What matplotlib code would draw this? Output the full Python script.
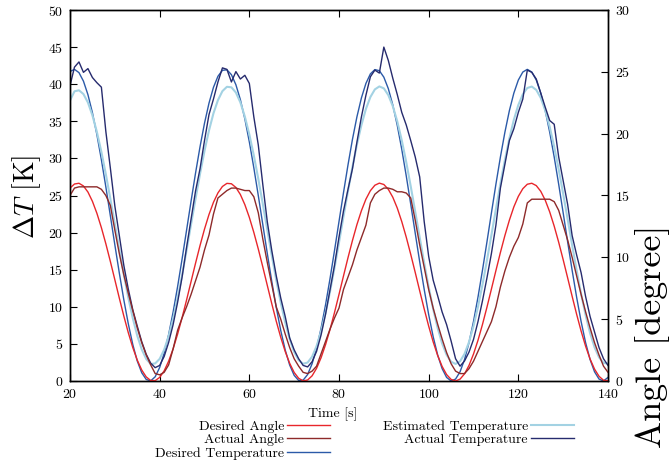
import numpy as np
import matplotlib
matplotlib.use('Agg')
import matplotlib.pyplot as plt

plt.rcParams['font.family'] = 'cmr10'
plt.rcParams['mathtext.fontset'] = 'cm'
plt.rcParams['axes.unicode_minus'] = False
plt.rcParams['axes.formatter.use_mathtext'] = True

# time axis, one sample per second
time_s = np.arange(20, 141)

# desired temperature difference [K]
desired_temp = [
    41.71, 42.00, 41.56, 40.41, 38.59, 36.16, 33.20, 29.82, 26.14, 22.27,
    18.36, 14.55, 10.96, 7.72, 4.93, 2.70, 1.11, 0.21, 0.02, 0.57,
    1.82, 3.74, 6.26, 9.29, 12.72, 16.44, 20.32, 24.22, 28.01, 31.56,
    34.74, 37.44, 39.58, 41.07, 41.87, 41.94, 41.29, 39.93, 37.92, 35.32,
    32.23, 28.74, 24.99, 21.10, 17.21, 13.44, 9.94, 6.82, 4.19, 2.15,
    0.76, 0.07, 0.11, 0.87, 2.33, 4.44, 7.11, 10.27, 13.81, 17.59,
    21.49, 25.37, 29.10, 32.56, 35.61, 38.15, 40.10, 41.39, 41.97, 41.82,
    40.95, 39.40, 37.20, 34.44, 31.22, 27.64, 23.83, 19.93, 16.06, 12.36,
    8.96, 5.98, 3.52, 1.67, 0.48, 0.01, 0.26, 1.24, 2.90, 5.18,
    8.02, 11.30, 14.92, 18.75, 22.66, 26.52, 30.18, 33.52, 36.43, 38.80,
    40.56, 41.64, 42.00, 41.64, 40.56, 38.80, 36.43, 33.52, 30.18, 26.52,
    22.66, 18.75, 14.92, 11.30, 8.02, 5.18, 2.90, 1.24, 0.26, 0.01,
    0.48,
]

# estimated temperature difference [K]
estimated_temp = [
    37.80, 39.04, 39.18, 38.67, 37.53, 35.80, 33.56, 30.88, 27.85, 24.56,
    21.14, 17.69, 14.36, 11.24, 8.47, 6.11, 4.26, 2.96, 2.29, 2.37,
    2.98, 4.22, 6.04, 8.38, 11.16, 14.27, 17.61, 21.09, 24.55, 27.90,
    31.00, 33.76, 36.08, 37.85, 39.07, 39.65, 39.58, 38.88, 37.55, 35.63,
    33.23, 30.40, 27.24, 23.87, 20.39, 16.93, 13.61, 10.57, 7.89, 5.64,
    3.91, 2.81, 2.32, 2.49, 3.28, 4.71, 6.69, 9.17, 12.05, 15.25,
    18.66, 22.15, 25.58, 28.85, 31.87, 34.49, 36.66, 38.27, 39.30, 39.70,
    39.44, 38.53, 37.04, 34.98, 32.43, 29.49, 26.24, 22.82, 19.34, 15.93,
    12.68, 9.71, 7.14, 5.06, 3.52, 2.60, 2.30, 2.65, 3.66, 5.25,
    7.40, 9.99, 12.98, 16.25, 19.69, 23.17, 26.59, 29.79, 32.69, 35.21,
    37.20, 38.65, 39.49, 39.68, 39.23, 38.16, 36.47, 34.25, 31.57, 28.53,
    25.23, 21.79, 18.31, 14.92, 11.74, 8.89, 6.46, 4.54, 3.19, 2.44,
    2.35,
]

# measured temperature difference [K]
actual_temp = [
    39.8, 42.3, 43.0, 41.6, 42.1, 40.9, 40.2, 39.6, 33.6, 28.7,
    23.6, 19.6, 15.6, 12.4, 9.6, 7.4, 5.3, 3.6, 2.4, 1.8,
    2.1, 3.3, 5.2, 7.6, 10.6, 14.0, 18.0, 21.8, 25.6, 28.6,
    32.4, 35.9, 38.0, 40.3, 42.2, 42.0, 40.3, 41.7, 40.7, 41.2,
    40.1, 35.6, 31.8, 26.5, 21.5, 17.6, 14.2, 11.2, 8.7, 5.8,
    4.2, 3.0, 2.1, 1.9, 2.6, 4.0, 6.2, 9.0, 12.3, 15.6,
    19.4, 22.9, 25.8, 28.6, 32.2, 35.6, 38.5, 41.0, 41.9, 41.5,
    45.0, 43.2, 40.8, 38.6, 36.2, 34.5, 32.4, 30.2, 27.5, 21.5,
    16.8, 13.6, 11.5, 9.3, 7.6, 5.4, 3.0, 2.0, 2.7, 3.9,
    5.6, 8.0, 10.8, 13.9, 17.2, 21.0, 26.0, 29.2, 32.4, 34.0,
    36.2, 38.0, 41.9, 41.6, 40.7, 38.8, 36.9, 35.1, 34.6, 30.2,
    27.0, 23.8, 19.6, 17.0, 14.6, 11.4, 8.7, 6.6, 4.5, 3.0,
    2.1,
]

# desired angle [degree]
desired_angle = [
    15.60, 15.93, 15.99, 15.77, 15.28, 14.53, 13.56, 12.40, 11.09, 9.67,
    8.19, 6.70, 5.26, 3.91, 2.71, 1.69, 0.89, 0.33, 0.04, 0.03,
    0.29, 0.82, 1.60, 2.60, 3.79, 5.12, 6.55, 8.04, 9.52, 10.95,
    12.28, 13.46, 14.45, 15.21, 15.73, 15.98, 15.95, 15.65, 15.08, 14.26,
    13.23, 12.02, 10.67, 9.23, 7.74, 6.26, 4.84, 3.54, 2.39, 1.43,
    0.69, 0.22, 0.01, 0.08, 0.42, 1.03, 1.88, 2.94, 4.17, 5.54,
    7.00, 8.49, 9.96, 11.36, 12.65, 13.77, 14.70, 15.39, 15.83, 16.00,
    15.89, 15.50, 14.86, 13.98, 12.89, 11.63, 10.24, 8.78, 7.29, 5.83,
    4.44, 3.17, 2.07, 1.18, 0.52, 0.13, 0.00, 0.15, 0.58, 1.26,
    2.18, 3.29, 4.57, 5.97, 7.44, 8.93, 10.39, 11.76, 13.00, 14.08,
    14.93, 15.55, 15.91, 15.99, 15.80, 15.34, 14.62, 13.67, 12.52, 11.22,
    9.81, 8.34, 6.85, 5.40, 4.04, 2.82, 1.78, 0.96, 0.38, 0.06,
    0.02,
]

# measured angle [degree]
actual_angle = [
    15.0, 15.6, 15.7, 15.7, 15.7, 15.7, 15.7, 15.5, 15.0, 14.2,
    12.2, 10.3, 8.6, 7.1, 5.7, 4.3, 3.1, 2.1, 1.3, 0.6,
    0.5, 0.7, 1.3, 2.6, 4.1, 5.1, 6.0, 7.0, 8.1, 9.2,
    10.6, 11.8, 13.5, 14.8, 15.1, 15.4, 15.6, 15.6, 15.5, 15.4,
    15.4, 14.9, 13.6, 11.5, 9.6, 7.8, 6.0, 5.0, 3.8, 2.7,
    1.8, 1.2, 0.7, 0.6, 0.8, 1.2, 2.2, 3.2, 4.2, 5.1,
    5.9, 7.4, 8.4, 9.4, 10.6, 11.6, 12.6, 14.4, 15.1, 15.4,
    15.6, 15.6, 15.5, 15.3, 15.3, 15.2, 14.8, 13.0, 11.0, 9.2,
    7.4, 5.9, 4.6, 3.4, 2.3, 1.4, 0.8, 0.6, 0.6, 1.0,
    1.6, 2.4, 3.2, 4.0, 4.8, 6.0, 7.6, 8.9, 10.0, 10.9,
    11.6, 12.7, 14.4, 14.7, 14.7, 14.7, 14.7, 14.7, 14.5, 13.8,
    12.6, 11.4, 10.0, 8.5, 7.0, 5.6, 4.3, 3.1, 2.1, 1.2,
    0.7,
]

x_ticks = [20, 40, 60, 80, 100, 120, 140]
temp_ticks = [0, 5, 10, 15, 20, 25, 30, 35, 40, 45, 50]
angle_ticks = [0, 5, 10, 15, 20, 25, 30]

fig = plt.figure(figsize=(6.72, 4.68), dpi=100)
ax = fig.add_axes([70 / 672, 87 / 468, 538 / 672, 371 / 468])
ax2 = ax.twinx()

l3, = ax.plot(time_s, desired_temp, color='#2b5aa8', lw=1.0, label='Desired Temperature')
l4, = ax.plot(time_s, estimated_temp, color='#a3d2e3', lw=1.5, label='Estimated Temperature')
l5, = ax.plot(time_s, actual_temp, color='#262b6e', lw=1.0, label='Actual Temperature')
l1, = ax2.plot(time_s, desired_angle, color='#e8262b', lw=1.0, label='Desired Angle')
l2, = ax2.plot(time_s, actual_angle, color='#8e2a2a', lw=1.0, label='Actual Angle')

ax.set_xlim(20, 140)
ax.set_ylim(0, 50)
ax2.set_ylim(0, 30)
ax.set_xticks(x_ticks)
ax.set_yticks(temp_ticks)
ax2.set_yticks(angle_ticks)

ax.tick_params(direction='in', length=5, top=True, labelsize=10, pad=5)
ax2.tick_params(direction='in', length=5, labelsize=10, pad=5)
for a in (ax, ax2):
    for s in a.spines.values():
        s.set_linewidth(1.0)

fig.text(333 / 672, 1 - 414 / 468, 'Time [s]', ha='center', va='center', fontsize=10)
fig.text(27 / 672, 1 - 197 / 468, r'$\Delta T$ [K]', rotation=90, ha='center', va='center', fontsize=20)
fig.text(653 / 672, 1 - 336 / 468, 'Angle [degree]', rotation=90, ha='center', va='center', fontsize=26)

handles = [l1, l2, l3, l4, l5]
fig.legend(handles, [h.get_label() for h in handles], loc='upper left',
           bbox_to_anchor=(155 / 672, 1 - 420 / 468), ncol=2, frameon=False,
           markerfirst=False, handlelength=3.1, handletextpad=0.2,
           columnspacing=3.8, labelspacing=0.05, borderpad=0, borderaxespad=0,
           fontsize=10)

fig.savefig('out.png', dpi=100)
